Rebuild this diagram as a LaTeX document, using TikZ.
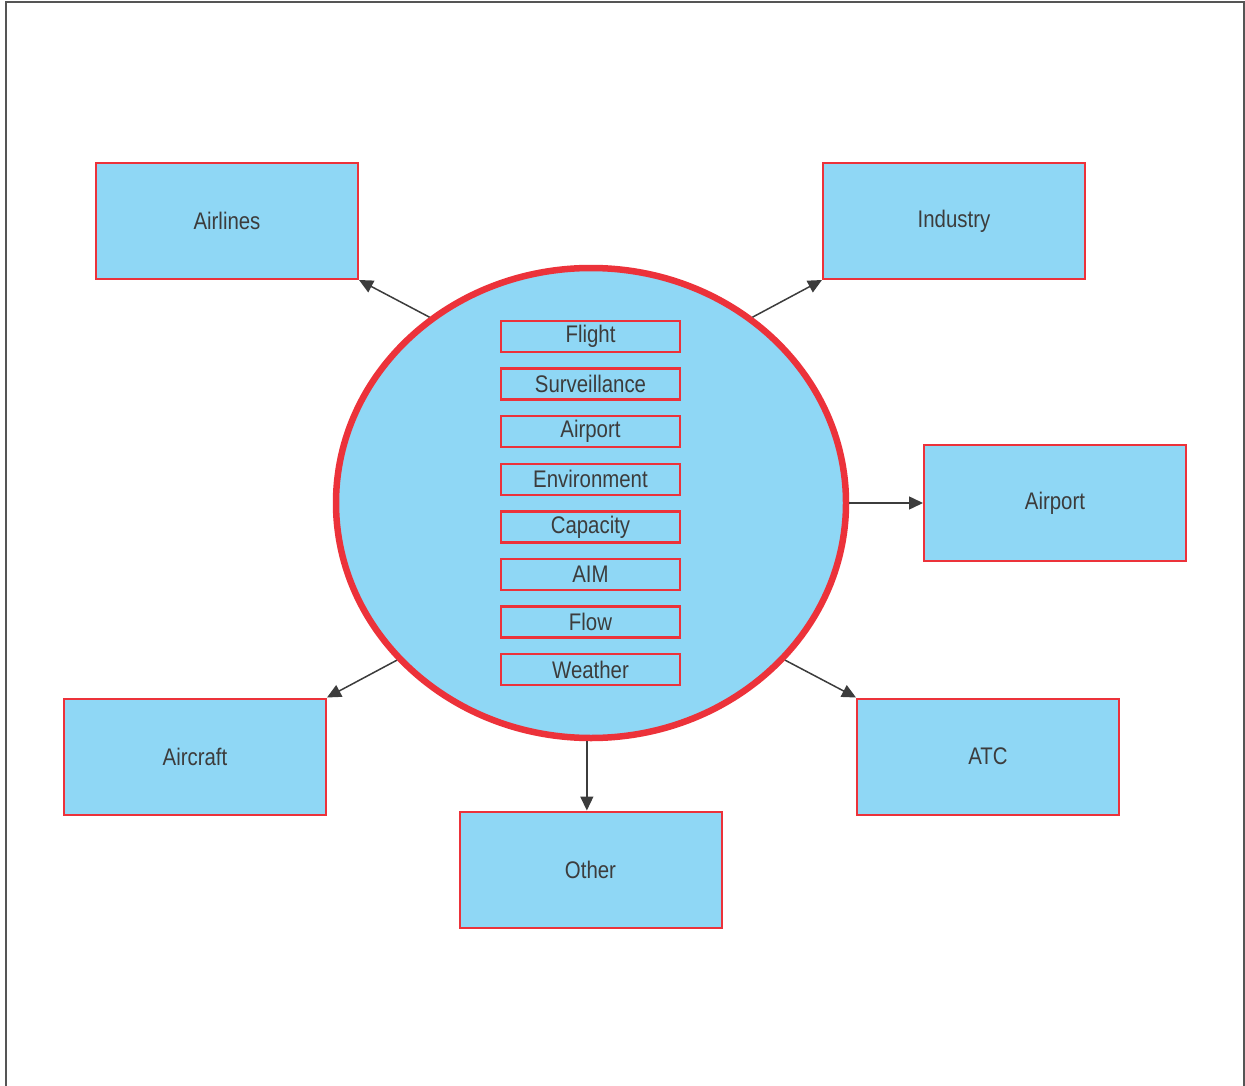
\documentclass[tikz,border=0pt]{standalone}
\usepackage{fontspec}
\setmainfont{Liberation Sans}[FakeStretch=0.85]
\usetikzlibrary{shapes.geometric,arrows.meta,positioning}

\definecolor{fillblue}{RGB}{143,215,245}
\definecolor{edgered}{RGB}{236,50,58}
\definecolor{inkgray}{RGB}{60,60,60}
\definecolor{framegray}{RGB}{85,85,85}

\tikzset{
  party/.style={draw=edgered, line width=2pt, fill=fillblue, minimum width=262pt, minimum height=116pt,
    inner sep=0pt, text=inkgray, font=\fontsize{24}{28}\selectfont},
  service/.style={draw=edgered, line width=2.4pt, fill=fillblue, minimum width=179pt, minimum height=31pt,
    inner sep=0pt, text=inkgray, font=\fontsize{24}{28}\selectfont},
  hubshape/.style={ellipse, draw=edgered, line width=6.5pt, fill=fillblue, minimum width=510pt, minimum height=470pt},
  link/.style={draw=inkgray, line width=1.5pt, -{Triangle[length=14pt,width=13pt]}}
}

\begin{document}
\begin{tikzpicture}[x=1pt,y=1pt,yscale=-1,xscale=1]
  \useasboundingbox (0,0) rectangle (1245,1086);

  %Frame
  \draw [framegray, line width=2pt] (6,1086) -- (6,2) -- (1244,2) -- (1244,1086);

  %Shape: Ellipse
  \node [hubshape] (hub) at (591,503) {};

  %Inner services
  \foreach \name/\label [count=\i from 0] in {flight/Flight, surv/Surveillance, apt/Airport,
      env/Environment, cap/Capacity, aim/AIM, flow/Flow, wx/Weather}
    \node [service] (\name) at (590.5,336.5+47.6*\i) {\label};

  %Outer parties
  \node [party] (airlines) at (227,221) {Airlines};
  \node [party] (industry) at (954,221) {Industry};
  \node [party] (airport) at (1055,503) {Airport};
  \node [party] (aircraft) at (195,756.5) {Aircraft};
  \node [party] (atc) at (988,756.5) {ATC};
  \node [party] (other) at (590.5,869.5) {Other};

  %Straight Lines
  \draw [link] (hub.131) -- (airlines.south east);
  \draw [link] (hub.49.5) -- (industry.south west);
  \draw [link] (hub.east) -- (airport.west);
  \draw [link] (hub.219) -- (aircraft.north east);
  \draw [link] (hub.321) -- (atc.north west);
  \draw [link] (hub.269) -- (hub.269 |- other.north);

\end{tikzpicture}
\end{document}
